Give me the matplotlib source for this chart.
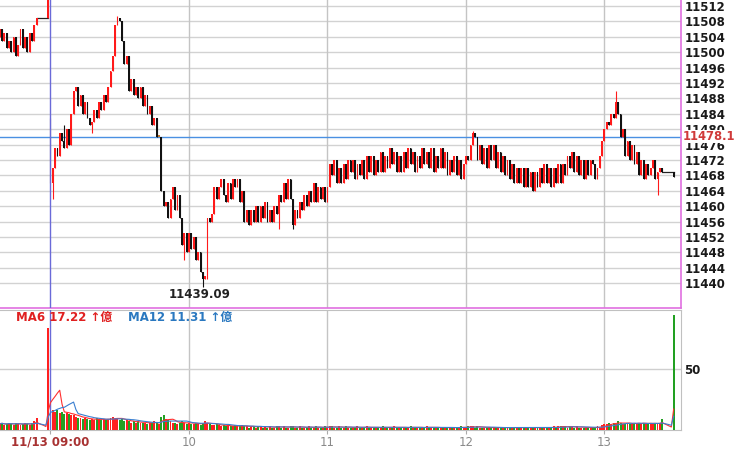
import matplotlib
matplotlib.use("Agg")
import matplotlib.pyplot as plt
import numpy as np
import pandas as pd

# ---------------- data ----------------
# previous session tail (13:09 .. 13:25), then 13:30 closing bar
prev_first_open = 11504
prev_close = [11506, 11503, 11505, 11501, 11503, 11500, 11504, 11499, 11502,
              11506, 11501, 11504, 11500, 11505, 11503, 11507, 11509]
prev_vol = [5, 6, 4, 5, 6, 5, 4, 6, 5, 4, 5, 6, 5, 4, 6, 7, 10]
prev_final_close = 11514.5
prev_final_vol = 83.6

# today's session, one bar per minute 09:00 .. 13:25, then 13:30 closing bar
today_open = 11483
close = [
    11466, 11470, 11475, 11473, 11479, 11477, 11475, 11480, 11476, 11484,
    11490, 11491, 11486, 11489, 11484, 11487, 11483, 11481, 11482, 11485,
    11483, 11487, 11485, 11489, 11487, 11491, 11495, 11499, 11507, 11509,
    11508, 11503, 11497, 11499, 11490, 11493, 11489, 11491, 11488, 11491,
    11486, 11489, 11484, 11486, 11481, 11483, 11478, 11478, 11464, 11460,
    11461, 11457, 11462, 11465, 11459, 11463, 11457, 11450, 11453, 11448,
    11453, 11449, 11452, 11446, 11448, 11443, 11441, 11442, 11457, 11456,
    11458, 11465, 11462, 11465, 11467, 11463, 11461, 11466, 11462, 11467,
    11465, 11467, 11461, 11464, 11456, 11459, 11455, 11459, 11456, 11460,
    11456, 11460, 11457, 11461, 11456, 11459, 11456, 11460, 11458, 11463,
    11461, 11466, 11462, 11467, 11462, 11455, 11459, 11457, 11461, 11459,
    11463, 11460, 11464, 11461, 11466, 11461, 11465, 11462, 11465, 11461,
    11465, 11471, 11468, 11472, 11466, 11470, 11466, 11471, 11467, 11472,
    11469, 11472, 11467, 11471, 11468, 11472, 11467, 11473, 11469, 11473,
    11468, 11472, 11469, 11474, 11469, 11473, 11470, 11475, 11471, 11474,
    11469, 11473, 11469, 11474, 11470, 11475, 11471, 11474, 11469, 11473,
    11470, 11475, 11471, 11474, 11470, 11475, 11469, 11473, 11470, 11475,
    11470, 11474, 11468, 11472, 11469, 11473, 11468, 11472, 11467, 11471,
    11473, 11472, 11476, 11479, 11478, 11472, 11476, 11471, 11475, 11470,
    11476, 11472, 11476, 11470, 11474, 11469, 11473, 11468, 11472, 11467,
    11471, 11466, 11470, 11466, 11470, 11465, 11470, 11465, 11469, 11464,
    11469, 11465, 11470, 11466, 11471, 11466, 11470, 11465, 11470, 11466,
    11471, 11466, 11471, 11468, 11473, 11470, 11474, 11469, 11473, 11468,
    11472, 11467, 11472, 11468, 11472, 11471, 11467, 11470, 11473, 11477,
    11480, 11482, 11481, 11484, 11483, 11487, 11484, 11478, 11480, 11473,
    11477, 11472, 11476, 11471, 11474, 11468, 11472, 11467, 11471, 11468,
    11470, 11472, 11467, 11469, 11470, 11469,
]
vol = [
    51,
    16, 15, 16, 14, 15, 13, 14, 13, 12, 12,
    11, 10, 10, 9, 10, 9, 8, 9, 8, 10,
    9, 8, 9, 8, 9, 10, 11, 9, 10, 8,
    9, 7, 8, 7, 6, 7, 6, 7, 6, 6,
    6, 5, 6, 6, 7, 6, 5, 11, 12, 9,
    8, 7, 6, 6, 5, 6, 7, 6, 5, 6,
    5, 5, 6, 5, 4, 6, 7, 6, 5, 4,
    4, 5, 4, 3, 4, 3, 4, 3, 3, 4,
    3, 3, 4, 3, 3, 2, 3, 3, 2, 3,
    3, 2, 3, 2, 3, 2, 2, 3, 3, 2,
    3, 2, 2, 3, 3, 2, 2, 3, 2, 2,
    2, 3, 2, 2, 3, 2, 2, 2, 3, 2,
    3, 3, 2, 2, 3, 2, 2, 3, 2, 2,
    2, 2, 3, 2, 2, 2, 3, 2, 2, 2,
    2, 2, 2, 3, 2, 2, 2, 2, 3, 2,
    2, 2, 2, 2, 2, 3, 2, 2, 2, 2,
    2, 2, 3, 2, 2, 2, 2, 2, 2, 2,
    2, 2, 2, 2, 2, 2, 2, 3, 2, 2,
    3, 3, 3, 2, 3, 2, 2, 2, 2, 2,
    2, 2, 2, 2, 2, 2, 2, 2, 2, 2,
    2, 2, 2, 2, 2, 2, 2, 2, 2, 2,
    2, 2, 2, 2, 2, 2, 2, 3, 2, 3,
    3, 3, 3, 2, 3, 3, 2, 3, 2, 2,
    2, 2, 2, 2, 2, 2, 3, 2, 4, 5,
    5, 6, 5, 6, 5, 7, 6, 5, 5, 6,
    5, 5, 6, 5, 6, 5, 6, 5,
    5.4, 5.6, 5.2, 5.5, 5.3, 5.42, 9.3,
]
final_close = 11467.6
final_vol = 94.0

wick_high = {6: 11481, 29: 11509.3, 183: 11479.5, 245: 11490}
wick_low = {1: 11462, 18: 11479, 58: 11446, 66: 11439.09, 68: 11441,
            99: 11454, 105: 11454, 263: 11463}

ref_price = 11478.1
tick_minutes = [0, 60, 120, 180, 240]
tick_labels = ["11/13 09:00", "10", "11", "12", "13"]
price_ticks = list(range(11440, 11513, 4))

# ---------------- assemble bars ----------------
UP, DOWN, FLAT, FIRST = "#ff1a1a", "#111111", "#c07830", "#7a4b25"
VUP, VDOWN, VFIRST = "#ff2020", "#22a022", "#6b7a1e"

pos, o_list, c_list, h_list, l_list, col, vcol_map = [], [], [], [], [], [], {}

def add_bar(p, o, c, special=False, hi=None, lo=None):
    pos.append(p); o_list.append(o); c_list.append(c)
    h_list.append(max(o, c) if hi is None else hi)
    l_list.append(min(o, c) if lo is None else lo)
    if special:
        col.append(FIRST); vcol_map[p] = VFIRST
    elif c > o:
        col.append(UP); vcol_map[p] = VUP
    elif c < o:
        col.append(DOWN); vcol_map[p] = VDOWN
    else:
        col.append(FLAT); vcol_map[p] = VUP

prev_pos = list(range(-22, -5))
o = prev_first_open
for p, c in zip(prev_pos, prev_close):
    add_bar(p, o, c)
    o = c
add_bar(-1, prev_close[-1], prev_final_close)

today_pos = list(range(0, len(close)))
o = today_open
for i, c in enumerate(close):
    add_bar(i, o, c, special=(i == 0), hi=wick_high.get(i), lo=wick_low.get(i))
    o = c
final_pos = 270
add_bar(final_pos, close[-1], final_close)

pos = np.array(pos); o_arr = np.array(o_list); c_arr = np.array(c_list)
h_arr = np.array(h_list); l_arr = np.array(l_list)

# volume series including the silent minutes before the closing auction
vpos = prev_pos + [-5, -4, -3, -2, -1] + today_pos + [266, 267, 268, 269, final_pos]
vser = prev_vol + [0, 0, 0, 0] + [prev_final_vol] + vol + [0, 0, 0, 0] + [final_vol]
vcolors = [vcol_map.get(p, VUP) for p in vpos]
vs = pd.Series(vser, dtype=float)
ma6 = vs.rolling(6, min_periods=1).mean()
ma12 = vs.rolling(12, min_periods=1).mean()

# ---------------- figure ----------------
plt.rcParams["font.family"] = ["DejaVu Sans", "Noto Sans CJK TC"]
W, H = 740, 451
fig = plt.figure(figsize=(W / 100, H / 100), dpi=100)
fig.patch.set_facecolor("white")

right_px = 681
ax = fig.add_axes([0, 1 - 307.5 / H, right_px / W, 307.5 / H])
axv = fig.add_axes([0, 1 - 430 / H, right_px / W, (430 - 310) / H])

xlim = ((0 - 50.5) / 2.308, (right_px - 50.5) / 2.308)
ppx = 3.85
ax.set_xlim(*xlim)
ax.set_ylim(11513.56 - 307.5 / ppx, 11513.56)
axv.set_xlim(*xlim)
axv.set_ylim(0, 120 / 61 * 50)

# grids
for t in price_ticks:
    ax.axhline(t, color="#d2d2d2", lw=1.0, zorder=0)
for m in tick_minutes[1:]:
    ax.axvline(m, color="#c4c4c4", lw=1.0, zorder=0)
    axv.axvline(m, color="#c4c4c4", lw=1.0, zorder=0)
axv.axhline(50, color="#cfcfcf", lw=1.0, zorder=0)

# candles
ax.vlines(pos, l_arr, h_arr, colors=col, lw=0.8, zorder=3)
bottoms = np.minimum(o_arr, c_arr)
heights = np.maximum(np.abs(c_arr - o_arr), 0.45)
ax.bar(pos, heights, width=0.8, bottom=bottoms, color=col, linewidth=0, zorder=3)
# flat segments during the pre-close auction
ax.plot([-6, -1], [prev_close[-1]] * 2, color="#222222", lw=0.9, zorder=2)
ax.plot([today_pos[-1], final_pos], [close[-1]] * 2, color="#222222", lw=0.9, zorder=2)

# reference lines
ax.axhline(ref_price, color="#4a90e2", lw=1.0, zorder=2)
ax.axvline(-0.1, color="#6a6ad8", lw=1.0, zorder=4)
axv.axvline(-0.1, color="#6a6ad8", lw=1.0, zorder=4)

# low annotation
imin = int(np.argmin(l_arr))
ax.annotate(f"{l_arr[imin]:.2f}", xy=(pos[imin], l_arr[imin]), xytext=(-3, -1),
            textcoords="offset pixels", ha="center", va="top",
            fontsize=8.5, fontweight="bold", color="#222222", zorder=5)

# price axis labels
ax.yaxis.tick_right()
ax.set_yticks(price_ticks)
ax.set_yticklabels([str(t) for t in price_ticks])
ax.tick_params(axis="y", length=0, pad=2.5, labelsize=8.5, labelcolor="#1a1a1a")
for lab in ax.get_yticklabels():
    lab.set_fontweight("bold")
ax.set_xticks(tick_minutes)
ax.tick_params(axis="x", length=0, labelbottom=False)
ax.annotate(f"{ref_price}", xy=(1, ref_price), xycoords=("axes fraction", "data"),
            xytext=(2, 0), textcoords="offset pixels", ha="left", va="center",
            fontsize=8.3, fontweight="bold", color="#d03a3a", annotation_clip=False,
            bbox=dict(boxstyle="square,pad=0.0", fc="white", ec="none"), zorder=6)

for s in ["top", "left"]:
    ax.spines[s].set_visible(False)
for s in ["right", "bottom"]:
    ax.spines[s].set_color("#e070e0")
    ax.spines[s].set_linewidth(1.2)
ax.set_facecolor("white")

# volume
axv.bar(vpos, vser, width=0.85, color=vcolors, linewidth=0, zorder=3)
axv.plot(vpos, ma6, color="#ff3030", lw=0.8, zorder=4)
axv.plot(vpos, ma12, color="#3a7fd0", lw=0.8, zorder=4)

axv.yaxis.tick_right()
axv.set_yticks([50])
axv.set_yticklabels(["50"])
axv.tick_params(axis="y", length=0, pad=2.5, labelsize=8.5, labelcolor="#1a1a1a")
for lab in axv.get_yticklabels():
    lab.set_fontweight("bold")
axv.set_xticks(tick_minutes)
axv.set_xticklabels(tick_labels)
axv.tick_params(axis="x", length=3, color="#aaaaaa", pad=1, labelsize=8.5,
                labelcolor="#8a8a8a")
xl = axv.get_xticklabels()
xl[0].set_color("#a83232")
xl[0].set_fontweight("bold")
axv.spines["left"].set_visible(False)
for s in ["right", "bottom", "top"]:
    axv.spines[s].set_color("#c0c0c0")

fig.text(16 / W, 1 - 317 / H, f"MA6 {ma6.iloc[-1]:.2f} ↑億", color="#e02020",
         fontsize=8.5, fontweight="bold", va="center", ha="left")
fig.text(128 / W, 1 - 317 / H, f"MA12 {ma12.iloc[-1]:.2f} ↑億", color="#2a78c0",
         fontsize=8.5, fontweight="bold", va="center", ha="left")

fig.savefig("out.png", dpi=100, facecolor="white")
